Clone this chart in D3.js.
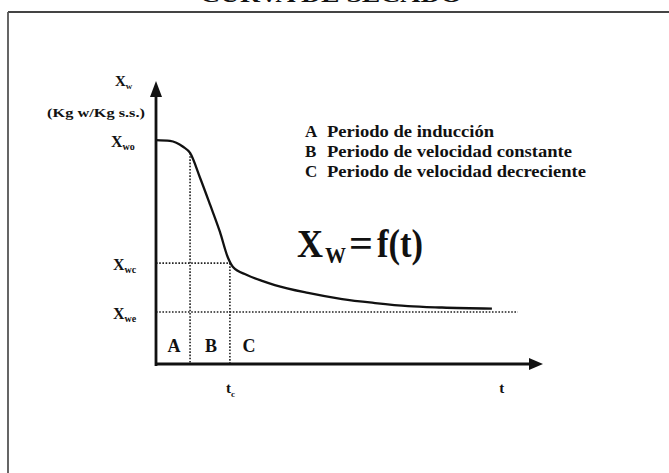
<!DOCTYPE html>
<html><head><meta charset="utf-8">
<script src="https://cdn.jsdelivr.net/npm/d3@7"></script>
<style>
html,body{margin:0;padding:0;background:#fff;}
svg{display:block;}
text{font-family:"Liberation Serif","Times New Roman",serif;font-weight:bold;fill:#111;}
</style></head>
<body>
<svg id="c" width="669" height="473"></svg>
<script>
// ---- data ----
const title = "CURVA DE SECADO";
const curveT = [0, 0.36, 0.70, 0.88, 1.14, 1.40, 1.65, 1.86, 1.99, 2.35, 2.76, 3.07, 3.93, 4.81, 5.66, 6.51, 7.39, 8.68];
const curveX = [0.797, 0.794, 0.773, 0.751, 0.662, 0.566, 0.471, 0.378, 0.345, 0.317, 0.295, 0.281, 0.253, 0.231, 0.217, 0.206, 0.201, 0.197];
const levelNames = ["wo", "wc", "we"];
const levelValues = [0.797, 0.359, 0.185];
const periodLetters = ["A", "B", "C"];
const periodNames = ["Periodo de inducción", "Periodo de velocidad constante", "Periodo de velocidad decreciente"];
const periodBounds = [0, 0.88, 1.91, 9.35];   // t limits of the periods (last = end of X_we guide)
const tickLabels = [{main: "t", sub: "c", t: 1.91}, {main: "t", sub: "", t: 8.97}];
const yLabel = {main: "X", sub: "w", unit: "(Kg w/Kg s.s.)"};
const formula = ["X", "W", "=", "f(t)"];

// ---- scales ----
const svg = d3.select("#c");
const x = d3.scaleLinear().domain([0, 10]).range([156, 543]);
const y = d3.scaleLinear().domain([0, 1]).range([364, 83]);

// page frame and cut title
svg.append("line").attr("x1", 8).attr("y1", 12).attr("x2", 669).attr("y2", 12).attr("stroke", "#444").attr("stroke-width", 1.8);
svg.append("line").attr("x1", 8).attr("y1", 12).attr("x2", 8).attr("y2", 473).attr("stroke", "#555").attr("stroke-width", 1.8);
svg.append("text").attr("x", 200).attr("y", 2).attr("font-size", 22).attr("textLength", 262).attr("lengthAdjust", "spacingAndGlyphs").text(title);

// guide dotted lines
const dot = {"stroke": "#222", "stroke-width": 1.6, "stroke-dasharray": "1.6,1.6", "fill": "none"};
function guide(x1, y1, x2, y2) {
  const l = svg.append("line").attr("x1", x1).attr("y1", y1).attr("x2", x2).attr("y2", y2);
  Object.entries(dot).forEach(([k, v]) => l.attr(k, v));
}
guide(x(0), y(levelValues[1]), x(periodBounds[2]), y(levelValues[1]));
guide(x(0), y(levelValues[2]), x(periodBounds[3]), y(levelValues[2]));
guide(x(periodBounds[1]), y(curveX[3]), x(periodBounds[1]), y(0));
guide(x(periodBounds[2]), y(levelValues[1]), x(periodBounds[2]), y(0));

// curve
const pts = curveT.map((t, i) => [t, curveX[i]]);
svg.append("path").datum(pts)
  .attr("d", d3.line().x(d => x(d[0])).y(d => y(d[1])).curve(d3.curveMonotoneX))
  .attr("fill", "none").attr("stroke", "#111").attr("stroke-width", 2.3);

// axes
svg.append("line").attr("x1", x(0)).attr("y1", y(0) + 2).attr("x2", x(0)).attr("y2", y(1) + 8).attr("stroke", "#111").attr("stroke-width", 2.8);
svg.append("line").attr("x1", x(0) - 1).attr("y1", y(0)).attr("x2", x(10) - 8).attr("y2", y(0)).attr("stroke", "#111").attr("stroke-width", 2.8);
svg.append("path").attr("d", `M${x(0)},${y(1) - 2} L${x(0) - 6},${y(1) + 14} L${x(0) + 6},${y(1) + 14} Z`).attr("fill", "#111");
svg.append("path").attr("d", `M${x(10)},${y(0)} L${x(10) - 14},${y(0) - 6} L${x(10) - 14},${y(0) + 6} Z`).attr("fill", "#111");

// y label
const yl = svg.append("text").attr("x", 115).attr("y", 86).attr("font-size", 15);
yl.append("tspan").text(yLabel.main);
yl.append("tspan").attr("font-size", 9).attr("dy", 3).text(yLabel.sub);
svg.append("text").attr("x", 47).attr("y", 117).attr("font-size", 11.5).attr("textLength", 98).attr("lengthAdjust", "spacingAndGlyphs").text(yLabel.unit);

// level labels
const levelX = [111, 113, 113];
levelNames.forEach((n, i) => {
  const t = svg.append("text").attr("x", levelX[i]).attr("y", y(levelValues[i]) + 7).attr("font-size", 16);
  t.append("tspan").text("X");
  t.append("tspan").attr("font-size", 10).attr("dy", 3).text(n);
});

// period letters
periodLetters.forEach((p, i) => {
  const cx = (x(periodBounds[i]) + x(Math.min(periodBounds[i + 1], 3.0))) / 2;
  svg.append("text").attr("x", cx + (i === 2 ? -2 : 1)).attr("y", 352).attr("text-anchor", "middle").attr("font-size", 18).text(p);
});

// tick labels
tickLabels.forEach(d => {
  const t = svg.append("text").attr("x", x(d.t) - 4).attr("y", 393).attr("font-size", 15);
  t.append("tspan").text(d.main);
  if (d.sub) t.append("tspan").attr("font-size", 9).attr("dy", 4).text(d.sub);
});

// legend
const legW = [167, 245, 259];
periodNames.forEach((n, i) => {
  const yy = 137 + i * 20;
  svg.append("text").attr("x", 305).attr("y", yy).attr("font-size", 17).text(periodLetters[i]);
  svg.append("text").attr("x", 327).attr("y", yy).attr("font-size", 17)
    .attr("textLength", legW[i]).attr("lengthAdjust", "spacingAndGlyphs").text(n);
});

// formula
svg.append("text").attr("x", 297).attr("y", 257).attr("font-size", 40).attr("textLength", 26).attr("lengthAdjust", "spacingAndGlyphs").text(formula[0]);
svg.append("text").attr("x", 325).attr("y", 263).attr("font-size", 24).attr("textLength", 21).attr("lengthAdjust", "spacingAndGlyphs").text(formula[1]);
svg.append("text").attr("x", 349).attr("y", 257).attr("font-size", 40).attr("textLength", 24).attr("lengthAdjust", "spacingAndGlyphs").text(formula[2]);
svg.append("text").attr("x", 377).attr("y", 257).attr("font-size", 40).attr("textLength", 46).attr("lengthAdjust", "spacingAndGlyphs").text(formula[3]);
</script>
</body></html>
